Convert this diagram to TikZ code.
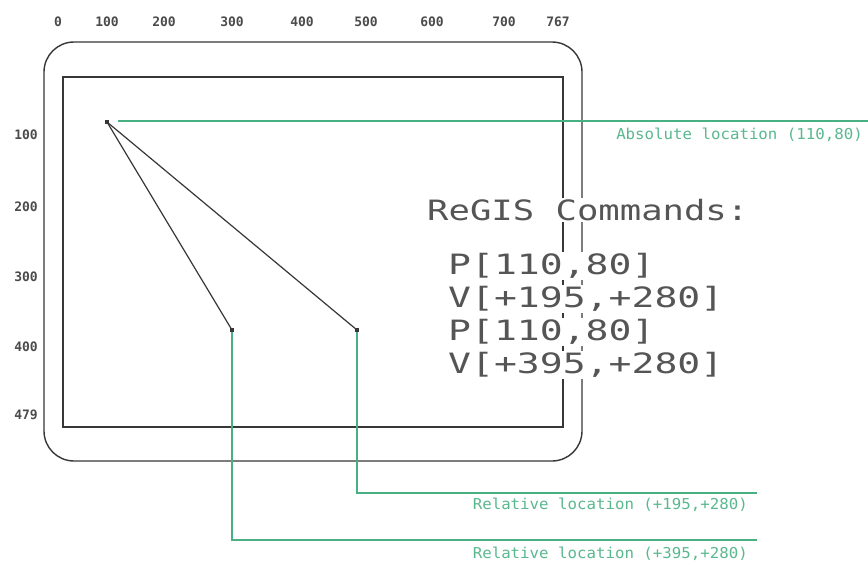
\documentclass[tikz,border=0pt]{standalone}
\usepackage{fontspec}
\usepackage{graphicx}
\newfontfamily\dmono{DejaVu Sans Mono}
\definecolor{grn}{RGB}{72,176,130}
\definecolor{ink}{RGB}{55,55,55}
\begin{document}
\begin{tikzpicture}[x=1pt,y=-1pt,
  frame/.style={draw=ink,line width=1.4pt},
  vec/.style={draw=ink,line width=1.2pt},
  lead/.style={draw=grn,line width=1.8pt},
  axlab/.style={font=\dmono\bfseries\fontsize{13}{13}\selectfont,text=ink!90,inner sep=0pt},
  cmd/.style={font=\dmono\fontsize{28}{28}\selectfont,text=ink!85,fill=white,inner sep=1pt,anchor=west},
  glab/.style={font=\dmono\fontsize{15}{15}\selectfont,text=grn!90,inner sep=0pt,anchor=east},
  endpt/.style={rectangle,fill=ink,inner sep=0pt,minimum size=4.5pt}]
\useasboundingbox (0,0) rectangle (868,563);
\fill[white] (0,0) rectangle (868,563);
% screen frames
\draw[frame,rounded corners=30pt] (44,42) rectangle (582,461);
\draw[frame] (63,77) rectangle (563,427);
% axis labels
\node[axlab] (t0) at (58,22) {0};
\node[axlab] (t1) at (107,22) {100};
\node[axlab] (t2) at (164,22) {200};
\node[axlab] (t3) at (232,22) {300};
\node[axlab] (t4) at (302,22) {400};
\node[axlab] (t5) at (366,22) {500};
\node[axlab] (t6) at (432,22) {600};
\node[axlab] (t7) at (504,22) {700};
\node[axlab] (t8) at (558,22) {767};
\node[axlab] (l1) at (26,135) {100};
\node[axlab] (l2) at (26,207) {200};
\node[axlab] (l3) at (26,277) {300};
\node[axlab] (l4) at (26,347) {400};
\node[axlab] (l5) at (26,415) {479};
% points and vectors
\node[endpt] (p0) at (107,122) {};
\node[endpt] (p1) at (232,330) {};
\node[endpt] (p2) at (357,330) {};
\draw[vec] (p0.center) -- (p1.center);
\draw[vec] (p0.center) -- (p2.center);
% commands
\node[cmd] (title) at (426,210) {\scalebox{1.27}[1]{ReGIS Commands:}};
\node[cmd] (c1) at (447,266) {\scalebox{1.36}[1]{P[110,80]}};
\node[cmd] (c2) at (447,299) {\scalebox{1.36}[1]{V[+195,+280]}};
\node[cmd] (c3) at (447,332) {\scalebox{1.36}[1]{P[110,80]}};
\node[cmd] (c4) at (447,365) {\scalebox{1.36}[1]{V[+395,+280]}};
% green leaders
\coordinate (a0) at (118,121);
\coordinate (a1) at (868,121);
\draw[lead] (a0) -- (a1);
\node[glab] (absl) at (863,135) {\scalebox{1.05}[1]{Absolute location (110,80)}};
\coordinate (r2) at (757,493);
\draw[lead] (p2.south) |- (r2);
\node[glab] (rel2) at (748,505) {\scalebox{1.05}[1]{Relative location (+195,+280)}};
\coordinate (r1) at (757,540);
\draw[lead] (p1.south) |- (r1);
\node[glab] (rel1) at (748,554) {\scalebox{1.05}[1]{Relative location (+395,+280)}};
\end{tikzpicture}
\end{document}
